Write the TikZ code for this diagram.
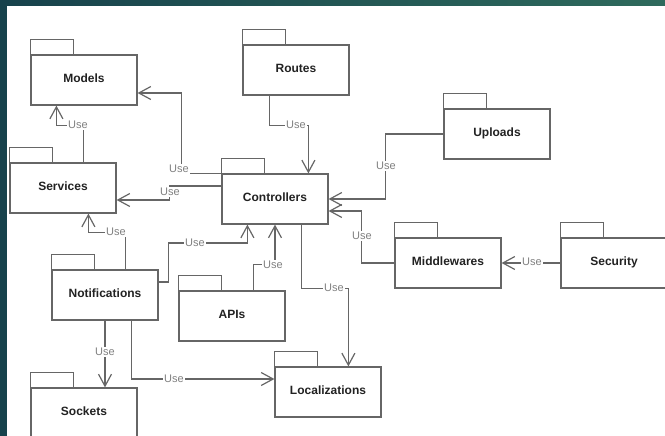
\documentclass[tikz,border=0pt]{standalone}
\usepackage{fontspec}
\setmainfont{Liberation Sans}
\usetikzlibrary{arrows.meta,calc}
\definecolor{bgA}{HTML}{17424C}
\definecolor{bgB}{HTML}{2E6A5C}
\definecolor{edge}{HTML}{666666}
\definecolor{usegray}{HTML}{808080}
\definecolor{ink}{HTML}{222222}
\tikzset{
  pkgbody/.style={draw=edge, line width=1.2pt, fill=white, minimum width=106pt,
    minimum height=50pt, inner sep=0pt, text=ink,
    font=\fontsize{12}{14}\selectfont\bfseries, text height=9pt, text depth=4pt},
  pkgtab/.style={draw=edge, line width=1.2pt, fill=white},
  use/.style={draw=edge, line width=1.2pt,
    -{Straight Barb[length=12pt,width=13pt,line width=1.2pt]}},
  lbl/.style={fill=white, inner sep=1pt, text=usegray,
    font=\fontsize{11}{12}\selectfont},
}
% a UML package: body node with its name, plus the small tab on top
\newcommand\umlpkg[3]{%
  \node[pkgbody] (#1) at (#2) {#3};
  \draw[pkgtab] (#1.north west) rectangle ++(43,-15);
}
\begin{document}
\begin{tikzpicture}[x=1pt, y=-1pt]
\useasboundingbox (0,0) rectangle (665,436);
% frame and canvas
\shade[left color=bgA, right color=bgB] (0,0) rectangle (665,436);
\fill[white] (7,6) rectangle (665,436);

% packages
\umlpkg{models}{84,80}{Models}
\umlpkg{routes}{296,70}{Routes}
\umlpkg{services}{63,188}{Services}
\umlpkg{controllers}{275,199}{Controllers}
\umlpkg{uploads}{497,134}{Uploads}
\umlpkg{middlewares}{448,263}{Middlewares}
\umlpkg{security}{614,263}{Security}
\umlpkg{notifications}{105,295}{Notifications}
\umlpkg{apis}{232,316}{APIs}
\umlpkg{sockets}{84,413}{Sockets}
\umlpkg{localizations}{328,392}{Localizations}

% dependencies
\draw[use] ($(services.north west)+(74,0)$) |- ($(models.south west)+(26,20)$) -- ($(models.south west)+(26,0)$);
\draw[use] (controllers.north west) -| ($(models.east)+(44,13)$) -- ($(models.east)+(0,13)$);
\draw[use] ($(controllers.west)+(0,-13)$) -- ++(-52,0) |- ($(services.east)+(0,12)$);
\draw[use] ($(routes.south west)+(27,0)$) -- ++(0,30) -| ($(controllers.north west)+(87,0)$);
\draw[use] (uploads.west) -- ++(-58,0) |- (controllers.east);
\draw[use] (middlewares.west) -- ++(-33,0) |- ($(controllers.east)+(0,12)$);
\draw[use] (security.west) -- (middlewares.east);
\draw[use] ($(notifications.north west)+(74,0)$) -- ++(0,-37) -| ($(services.south west)+(79,0)$);
\draw[use] ($(notifications.east)+(0,-13)$) -- ++(10,0) -- ++(0,-39) -| ($(controllers.south west)+(26,0)$);
\draw[use] ($(apis.north west)+(75,0)$) -- ++(0,-26) -| (controllers.south);
\draw[use] ($(controllers.south west)+(80,0)$) -- ++(0,64) -| ($(localizations.north west)+(74,0)$);
\draw[use] (notifications.south) -- (sockets.north -| notifications.south);
\draw[use] ($(notifications.south west)+(80,0)$) |- ($(localizations.west)+(0,-13)$);

% stereotype labels
\node[lbl] (u1) at (78,125) {Use};
\node[lbl] (u2) at (179,169) {Use};
\node[lbl] (u3) at (170,192) {Use};
\node[lbl] (u4) at (296,125) {Use};
\node[lbl] (u5) at (386,166) {Use};
\node[lbl] (u6) at (362,236) {Use};
\node[lbl] (u7) at (532,262) {Use};
\node[lbl] (u8) at (116,232) {Use};
\node[lbl] (u9) at (195,243) {Use};
\node[lbl] (u10) at (273,265) {Use};
\node[lbl] (u11) at (334,288) {Use};
\node[lbl] (u12) at (105,352) {Use};
\node[lbl] (u13) at (174,379) {Use};
\end{tikzpicture}
\end{document}
